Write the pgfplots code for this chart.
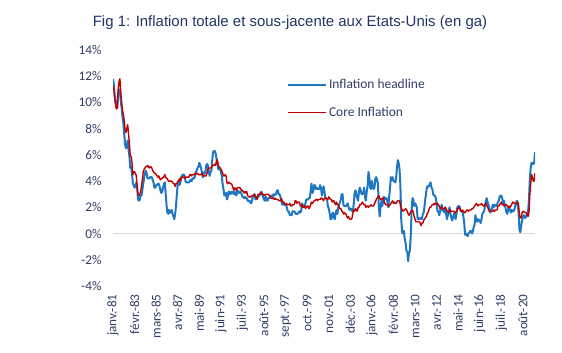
\documentclass[border=0pt]{standalone}
\usepackage{pgfplots}
\pgfplotsset{compat=1.18}
\usepackage{pgfplotstable}
\usepackage{fontspec}
\setmainfont{Carlito}
\newfontfamily\arialfont{Liberation Sans}
\definecolor{txt}{RGB}{48,60,104}
\definecolor{ttl}{RGB}{31,52,100}
\definecolor{hblue}{RGB}{31,119,196}
\definecolor{cred}{RGB}{192,0,0}
\definecolor{zline}{RGB}{217,217,217}

% monthly, Jan 1981 - Oct 2021
\pgfplotstableread[row sep=\\, header=false]{
11.8\\ 11.4\\ 10.5\\ 10.0\\ 9.8\\ 9.6\\ 10.8\\ 10.8\\ 11.0\\ 10.1\\ 9.6\\ 8.9\\
8.4\\ 7.6\\ 6.8\\ 6.5\\ 6.7\\ 7.1\\ 6.4\\ 5.9\\ 5.0\\ 5.1\\ 4.6\\ 3.8\\
3.7\\ 3.5\\ 3.6\\ 3.9\\ 3.5\\ 2.6\\ 2.5\\ 2.6\\ 2.9\\ 2.9\\ 3.3\\ 3.8\\
4.2\\ 4.6\\ 4.8\\ 4.6\\ 4.2\\ 4.2\\ 4.2\\ 4.3\\ 4.3\\ 4.3\\ 4.1\\ 3.9\\
3.5\\ 3.5\\ 3.7\\ 3.7\\ 3.8\\ 3.8\\ 3.6\\ 3.3\\ 3.1\\ 3.2\\ 3.5\\ 3.8\\
3.9\\ 3.1\\ 2.2\\ 1.6\\ 1.5\\ 1.8\\ 1.6\\ 1.6\\ 1.8\\ 1.5\\ 1.3\\ 1.1\\
1.5\\ 2.1\\ 3.0\\ 3.8\\ 3.9\\ 3.7\\ 3.9\\ 4.3\\ 4.4\\ 4.5\\ 4.5\\ 4.4\\
4.0\\ 3.9\\ 3.9\\ 3.9\\ 3.9\\ 4.0\\ 4.1\\ 4.0\\ 4.2\\ 4.2\\ 4.2\\ 4.4\\
4.7\\ 4.8\\ 5.0\\ 5.1\\ 5.4\\ 5.2\\ 5.0\\ 4.7\\ 4.3\\ 4.5\\ 4.7\\ 4.6\\
5.2\\ 5.3\\ 5.2\\ 4.7\\ 4.4\\ 4.7\\ 4.8\\ 5.6\\ 6.2\\ 6.3\\ 6.3\\ 6.1\\
5.7\\ 5.3\\ 4.9\\ 4.9\\ 5.0\\ 4.7\\ 4.4\\ 3.8\\ 3.4\\ 2.9\\ 3.0\\ 3.1\\
2.6\\ 2.8\\ 3.2\\ 3.2\\ 3.0\\ 3.1\\ 3.2\\ 3.1\\ 3.0\\ 3.2\\ 3.0\\ 2.9\\
3.3\\ 3.2\\ 3.1\\ 3.2\\ 3.2\\ 3.0\\ 2.8\\ 2.8\\ 2.7\\ 2.8\\ 2.7\\ 2.7\\
2.5\\ 2.5\\ 2.5\\ 2.4\\ 2.3\\ 2.5\\ 2.8\\ 2.9\\ 3.0\\ 2.6\\ 2.7\\ 2.7\\
2.8\\ 2.9\\ 2.9\\ 3.1\\ 3.2\\ 3.0\\ 2.8\\ 2.6\\ 2.5\\ 2.8\\ 2.6\\ 2.5\\
2.7\\ 2.7\\ 2.8\\ 2.9\\ 2.9\\ 2.8\\ 3.0\\ 2.9\\ 3.0\\ 3.0\\ 3.3\\ 3.3\\
3.0\\ 3.0\\ 2.8\\ 2.5\\ 2.2\\ 2.3\\ 2.2\\ 2.2\\ 2.2\\ 2.1\\ 1.8\\ 1.7\\
1.6\\ 1.4\\ 1.4\\ 1.4\\ 1.7\\ 1.7\\ 1.7\\ 1.6\\ 1.5\\ 1.5\\ 1.5\\ 1.6\\
1.7\\ 1.6\\ 1.7\\ 2.3\\ 2.1\\ 2.0\\ 2.1\\ 2.3\\ 2.6\\ 2.6\\ 2.6\\ 2.7\\
2.7\\ 3.2\\ 3.8\\ 3.1\\ 3.2\\ 3.7\\ 3.7\\ 3.4\\ 3.5\\ 3.4\\ 3.4\\ 3.4\\
3.7\\ 3.5\\ 2.9\\ 3.3\\ 3.6\\ 3.2\\ 2.7\\ 2.7\\ 2.6\\ 2.1\\ 1.9\\ 1.6\\
1.1\\ 1.1\\ 1.5\\ 1.6\\ 1.2\\ 1.1\\ 1.5\\ 1.8\\ 1.5\\ 2.0\\ 2.2\\ 2.4\\
2.6\\ 3.0\\ 3.0\\ 2.2\\ 2.1\\ 2.1\\ 2.1\\ 2.2\\ 2.3\\ 2.0\\ 1.8\\ 1.9\\
1.9\\ 1.7\\ 1.7\\ 2.3\\ 3.1\\ 3.3\\ 3.0\\ 2.7\\ 2.5\\ 3.2\\ 3.5\\ 3.3\\
3.0\\ 3.0\\ 3.1\\ 3.5\\ 2.8\\ 2.5\\ 3.2\\ 3.6\\ 4.7\\ 4.3\\ 3.5\\ 3.4\\
4.0\\ 3.6\\ 3.4\\ 3.5\\ 4.2\\ 4.3\\ 4.1\\ 3.8\\ 2.1\\ 1.3\\ 2.0\\ 2.5\\
2.1\\ 2.4\\ 2.8\\ 2.6\\ 2.7\\ 2.7\\ 2.4\\ 2.0\\ 2.8\\ 3.5\\ 4.3\\ 4.1\\
4.3\\ 4.0\\ 4.0\\ 3.9\\ 4.2\\ 5.0\\ 5.6\\ 5.4\\ 4.9\\ 3.7\\ 1.1\\ 0.1\\
0.0\\ 0.2\\ -0.4\\ -0.7\\ -1.3\\ -1.4\\ -2.1\\ -1.5\\ -1.3\\ -0.2\\ 1.8\\ 2.7\\
2.6\\ 2.1\\ 2.3\\ 2.2\\ 2.0\\ 1.1\\ 1.2\\ 1.1\\ 1.1\\ 1.2\\ 1.1\\ 1.5\\
1.6\\ 2.1\\ 2.7\\ 3.2\\ 3.6\\ 3.6\\ 3.6\\ 3.8\\ 3.9\\ 3.5\\ 3.4\\ 3.0\\
2.9\\ 2.9\\ 2.7\\ 2.3\\ 1.7\\ 1.7\\ 1.4\\ 1.7\\ 2.0\\ 2.2\\ 1.8\\ 1.7\\
1.6\\ 2.0\\ 1.5\\ 1.1\\ 1.4\\ 1.8\\ 2.0\\ 1.5\\ 1.2\\ 1.0\\ 1.2\\ 1.5\\
1.6\\ 1.1\\ 1.5\\ 2.0\\ 2.1\\ 2.1\\ 2.0\\ 1.7\\ 1.7\\ 1.7\\ 1.3\\ 0.8\\
-0.1\\ 0.0\\ -0.1\\ -0.2\\ 0.0\\ 0.1\\ 0.2\\ 0.2\\ 0.0\\ 0.2\\ 0.5\\ 0.7\\
1.4\\ 1.0\\ 0.9\\ 1.1\\ 1.0\\ 1.0\\ 0.8\\ 1.1\\ 1.5\\ 1.6\\ 1.7\\ 2.1\\
2.5\\ 2.7\\ 2.4\\ 2.2\\ 1.9\\ 1.6\\ 1.7\\ 1.9\\ 2.2\\ 2.0\\ 2.2\\ 2.1\\
2.1\\ 2.2\\ 2.4\\ 2.5\\ 2.8\\ 2.9\\ 2.9\\ 2.7\\ 2.3\\ 2.5\\ 2.2\\ 1.9\\
1.6\\ 1.5\\ 1.9\\ 2.0\\ 1.8\\ 1.6\\ 1.8\\ 1.7\\ 1.7\\ 1.8\\ 2.1\\ 2.3\\
2.5\\ 2.3\\ 1.5\\ 0.3\\ 0.1\\ 0.6\\ 1.0\\ 1.3\\ 1.4\\ 1.2\\ 1.2\\ 1.4\\
1.4\\ 1.7\\ 2.6\\ 4.2\\ 5.0\\ 5.4\\ 5.4\\ 5.3\\ 5.4\\ 6.2\\
}\headline

\pgfplotstableread[row sep=\\, header=false]{
11.3\\ 11.0\\ 10.3\\ 9.8\\ 9.5\\ 9.6\\ 11.0\\ 11.6\\ 11.8\\ 10.8\\ 10.0\\ 9.4\\
9.1\\ 8.6\\ 8.0\\ 7.7\\ 8.0\\ 8.3\\ 7.6\\ 6.9\\ 5.9\\ 5.9\\ 5.4\\ 4.5\\
4.7\\ 4.7\\ 4.6\\ 4.4\\ 3.5\\ 3.0\\ 2.9\\ 3.0\\ 3.2\\ 3.6\\ 4.1\\ 4.7\\
4.9\\ 5.0\\ 5.1\\ 5.1\\ 5.2\\ 5.1\\ 5.0\\ 5.1\\ 5.1\\ 5.0\\ 4.8\\ 4.7\\
4.6\\ 4.6\\ 4.5\\ 4.4\\ 4.3\\ 4.4\\ 4.2\\ 4.1\\ 4.2\\ 4.2\\ 4.3\\ 4.3\\
4.5\\ 4.3\\ 4.2\\ 4.2\\ 4.0\\ 4.0\\ 4.0\\ 4.0\\ 4.0\\ 3.9\\ 3.8\\ 3.8\\
3.6\\ 3.8\\ 3.8\\ 4.0\\ 4.0\\ 4.2\\ 4.0\\ 4.2\\ 4.3\\ 4.3\\ 4.3\\ 4.2\\
4.3\\ 4.3\\ 4.3\\ 4.3\\ 4.3\\ 4.5\\ 4.5\\ 4.4\\ 4.5\\ 4.5\\ 4.5\\ 4.6\\
4.5\\ 4.6\\ 4.6\\ 4.5\\ 4.5\\ 4.5\\ 4.5\\ 4.6\\ 4.4\\ 4.4\\ 4.4\\ 4.4\\
4.4\\ 4.6\\ 4.9\\ 5.0\\ 5.0\\ 5.0\\ 5.0\\ 5.2\\ 5.2\\ 5.2\\ 5.3\\ 5.2\\
5.6\\ 5.6\\ 5.2\\ 5.1\\ 5.0\\ 4.9\\ 4.8\\ 4.6\\ 4.4\\ 4.4\\ 4.5\\ 4.4\\
3.9\\ 3.8\\ 3.9\\ 3.9\\ 3.8\\ 3.8\\ 3.7\\ 3.5\\ 3.3\\ 3.5\\ 3.4\\ 3.3\\
3.5\\ 3.5\\ 3.5\\ 3.5\\ 3.4\\ 3.3\\ 3.3\\ 3.2\\ 3.1\\ 3.2\\ 3.1\\ 3.2\\
2.9\\ 2.8\\ 2.8\\ 2.8\\ 2.8\\ 2.9\\ 2.9\\ 2.9\\ 3.0\\ 2.8\\ 2.8\\ 2.6\\
3.0\\ 3.0\\ 3.0\\ 3.1\\ 3.1\\ 3.0\\ 3.0\\ 2.9\\ 2.9\\ 3.0\\ 3.0\\ 3.0\\
3.0\\ 2.9\\ 2.8\\ 2.7\\ 2.7\\ 2.7\\ 2.7\\ 2.6\\ 2.7\\ 2.6\\ 2.6\\ 2.6\\
2.5\\ 2.5\\ 2.5\\ 2.7\\ 2.5\\ 2.4\\ 2.4\\ 2.2\\ 2.2\\ 2.3\\ 2.2\\ 2.2\\
2.2\\ 2.3\\ 2.1\\ 2.1\\ 2.2\\ 2.2\\ 2.2\\ 2.5\\ 2.5\\ 2.3\\ 2.4\\ 2.4\\
2.4\\ 2.1\\ 2.1\\ 2.2\\ 2.0\\ 2.1\\ 2.1\\ 1.9\\ 2.0\\ 2.1\\ 2.1\\ 1.9\\
2.0\\ 2.2\\ 2.4\\ 2.3\\ 2.4\\ 2.5\\ 2.5\\ 2.6\\ 2.6\\ 2.5\\ 2.6\\ 2.6\\
2.6\\ 2.7\\ 2.7\\ 2.6\\ 2.5\\ 2.7\\ 2.7\\ 2.7\\ 2.6\\ 2.6\\ 2.8\\ 2.7\\
2.6\\ 2.6\\ 2.4\\ 2.5\\ 2.5\\ 2.3\\ 2.2\\ 2.4\\ 2.2\\ 2.2\\ 2.0\\ 1.9\\
1.9\\ 1.7\\ 1.7\\ 1.5\\ 1.6\\ 1.5\\ 1.5\\ 1.3\\ 1.2\\ 1.3\\ 1.1\\ 1.1\\
1.1\\ 1.2\\ 1.6\\ 1.8\\ 1.7\\ 1.9\\ 1.8\\ 1.7\\ 2.0\\ 2.0\\ 2.2\\ 2.2\\
2.3\\ 2.4\\ 2.3\\ 2.2\\ 2.2\\ 2.0\\ 2.1\\ 2.1\\ 2.0\\ 2.1\\ 2.1\\ 2.2\\
2.1\\ 2.1\\ 2.1\\ 2.3\\ 2.4\\ 2.6\\ 2.7\\ 2.8\\ 2.9\\ 2.7\\ 2.6\\ 2.6\\
2.7\\ 2.7\\ 2.5\\ 2.3\\ 2.2\\ 2.2\\ 2.2\\ 2.1\\ 2.1\\ 2.2\\ 2.3\\ 2.4\\
2.5\\ 2.3\\ 2.4\\ 2.3\\ 2.3\\ 2.4\\ 2.5\\ 2.5\\ 2.5\\ 2.2\\ 2.0\\ 1.8\\
1.7\\ 1.8\\ 1.8\\ 1.9\\ 1.8\\ 1.7\\ 1.5\\ 1.4\\ 1.5\\ 1.7\\ 1.7\\ 1.8\\
1.6\\ 1.3\\ 1.1\\ 0.9\\ 0.9\\ 0.9\\ 0.9\\ 0.9\\ 0.8\\ 0.6\\ 0.8\\ 0.8\\
1.0\\ 1.1\\ 1.2\\ 1.3\\ 1.5\\ 1.6\\ 1.8\\ 2.0\\ 2.0\\ 2.1\\ 2.2\\ 2.2\\
2.3\\ 2.2\\ 2.3\\ 2.3\\ 2.3\\ 2.2\\ 2.1\\ 1.9\\ 2.0\\ 2.0\\ 1.9\\ 1.9\\
1.9\\ 2.0\\ 1.9\\ 1.7\\ 1.7\\ 1.6\\ 1.7\\ 1.8\\ 1.7\\ 1.7\\ 1.7\\ 1.7\\
1.6\\ 1.6\\ 1.7\\ 1.8\\ 2.0\\ 1.9\\ 1.9\\ 1.7\\ 1.7\\ 1.8\\ 1.7\\ 1.6\\
1.6\\ 1.7\\ 1.8\\ 1.8\\ 1.7\\ 1.8\\ 1.8\\ 1.8\\ 1.9\\ 1.9\\ 2.0\\ 2.1\\
2.2\\ 2.3\\ 2.2\\ 2.1\\ 2.2\\ 2.2\\ 2.2\\ 2.3\\ 2.2\\ 2.1\\ 2.1\\ 2.2\\
2.3\\ 2.2\\ 2.0\\ 1.9\\ 1.7\\ 1.7\\ 1.7\\ 1.7\\ 1.7\\ 1.8\\ 1.7\\ 1.8\\
1.8\\ 1.8\\ 2.1\\ 2.1\\ 2.2\\ 2.3\\ 2.4\\ 2.2\\ 2.2\\ 2.1\\ 2.2\\ 2.2\\
2.2\\ 2.1\\ 2.0\\ 2.1\\ 2.0\\ 2.1\\ 2.2\\ 2.4\\ 2.4\\ 2.3\\ 2.3\\ 2.3\\
2.3\\ 2.4\\ 2.1\\ 1.4\\ 1.2\\ 1.2\\ 1.6\\ 1.7\\ 1.7\\ 1.6\\ 1.6\\ 1.6\\
1.4\\ 1.3\\ 1.6\\ 3.0\\ 3.8\\ 4.5\\ 4.3\\ 4.0\\ 4.0\\ 4.6\\
}\core

\begin{document}
\begin{tikzpicture}[x=1bp,y=1bp]
\useasboundingbox (0,0) rectangle (562,352);
\node[font=\arialfont\fontsize{15}{18}\selectfont, text=ttl] at (290,329)
  {Fig 1: Inflation totale et sous-jacente aux Etats-Unis (en ga)};
\begin{axis}[
  at={(113bp,66bp)}, anchor=south west,
  scale only axis, width=422bp, height=236bp,
  xmin=0, xmax=489, ymin=-4, ymax=14,
  axis line style={draw=none},
  major tick length=0pt,
  ytick={-4,-2,...,14},
  yticklabel={\pgfmathprintnumber{\tick}\%},
  /pgf/number format/assume math mode=true,
  xtick={0,25,...,475},
  xticklabels={janv.-81,févr.-83,mars-85,avr.-87,mai-89,juin-91,juil.-93,août-95,sept.-97,oct.-99,nov.-01,déc.-03,janv.-06,févr.-08,mars-10,avr.-12,mai-14,juin-16,juil.-18,août-20},
  tick label style={font=\fontsize{13.3}{15}\selectfont, text=txt},
  x tick label style={rotate=90, anchor=east},
  xticklabel shift=5bp,
  yticklabel shift=8bp,
  legend style={at={(0.412,0.885)}, anchor=north west, draw=none, fill=none,
    font=\fontsize{13.5}{16}\selectfont, text=txt, row sep=13bp, inner sep=0pt,
    cells={anchor=west}},
  legend image code/.code={\draw[#1] (0bp,0bp) -- (38bp,0bp);},
]
\addplot[zline, line width=1.3bp, forget plot] coordinates {(0,0) (489,0)};
\addplot[hblue, line width=2bp, line join=round] table[x expr=\coordindex, y index=0] {\headline};
\addlegendentry{Inflation headline}
\addplot[cred, line width=1.4bp, line join=round] table[x expr=\coordindex, y index=0] {\core};
\addlegendentry{Core Inflation}
\end{axis}
\end{tikzpicture}
\end{document}
